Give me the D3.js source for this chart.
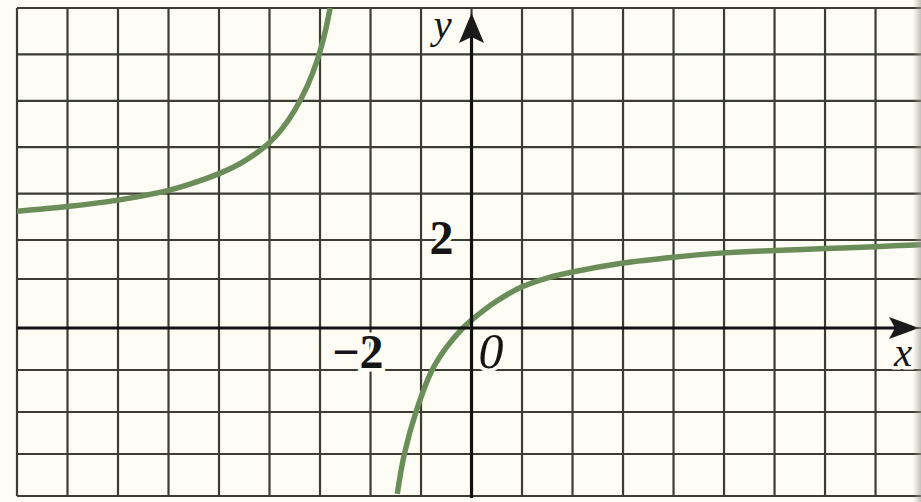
<!DOCTYPE html>
<html>
<head>
<meta charset="utf-8">
<script src="https://cdn.jsdelivr.net/npm/d3@7"></script>
<style>
  html, body { margin: 0; padding: 0; background: #fdfdf6; }
  svg { display: block; }
</style>
</head>
<body>
<svg id="chart" width="921" height="502"></svg>
<script>
// Left branch of the graph (left of the vertical asymptote)
const leftX = [-9, -8, -7, -6, -5.5, -5, -4.75, -4.5, -4.25, -4, -3.75, -3.5, -3.25, -3.05, -2.9, -2.8];
const leftY = [2.62, 2.72, 2.86, 3.07, 3.23, 3.43, 3.55, 3.70, 3.88, 4.10, 4.40, 4.80, 5.32, 5.89, 6.48, 7.0];

// Right branch of the graph (through the origin, rising towards y = 2)
const rightX = [-1.47, -1.33, -1.1, -0.78, -0.49, -0.17, 0, 0.5, 1, 1.51, 2, 3, 4, 5, 6, 7, 8, 8.9];
const rightY = [-3.95, -3.0, -2.0, -1.0, -0.45, 0, 0.16, 0.55, 0.84, 1.03, 1.18, 1.41, 1.56, 1.67, 1.73, 1.78, 1.83, 1.88];

// Grid lines, one per unit
const xGridValues = [-9, -8, -7, -6, -5, -4, -3, -2, -1, 0, 1, 2, 3, 4, 5, 6, 7, 8];
const yGridValues = [-4, -3, -2, -1, 0, 1, 2, 3, 4, 5, 6, 7];

// Axis labels
const xTickValues = [-2];
const xTickLabels = ["−2"];
const yTickValues = [2];
const yTickLabels = ["2"];
const originLabel = "0";
const xAxisName = "x";
const yAxisName = "y";

const W = 921, H = 502;
const svg = d3.select("#chart");

const x = d3.scaleLinear().domain([-9, 8.9]).range([17, 921]);
const y = d3.scaleLinear().domain([-4, 0, 1, 2, 7]).range([496, 328, 279, 240, 8]);

const bg = "#fdfdf6";
const gridColor = "#3b3d33";
const curveColor = "#6b8d59";

svg.append("rect").attr("width", W).attr("height", H).attr("fill", bg);

// Clip region = ruled paper area
svg.append("clipPath").attr("id", "plotClip")
  .append("rect")
  .attr("x", x(-9)).attr("y", y(7))
  .attr("width", W - x(-9)).attr("height", y(-4) - y(7));

// Grid
const grid = svg.append("g").attr("stroke", gridColor).attr("stroke-width", 2.2).attr("fill", "none");
grid.selectAll("line.v").data(xGridValues).join("line")
  .attr("class", "v")
  .attr("x1", d => x(d)).attr("x2", d => x(d))
  .attr("y1", y(7)).attr("y2", y(-4));
grid.selectAll("line.h").data(yGridValues).join("line")
  .attr("class", "h")
  .attr("x1", x(-9)).attr("x2", W)
  .attr("y1", d => y(d)).attr("y2", d => y(d));

// Curve
const line = d3.line()
  .x(d => x(d[0]))
  .y(d => y(d[1]))
  .curve(d3.curveCatmullRom.alpha(0.5));

const branches = [
  d3.zip(leftX, leftY),
  d3.zip(rightX, rightY)
];

svg.append("g").attr("clip-path", "url(#plotClip)")
  .selectAll("path").data(branches).join("path")
  .attr("d", line)
  .attr("fill", "none")
  .attr("stroke", curveColor)
  .attr("stroke-width", 5.5)
  .attr("stroke-linecap", "butt");

// Axes
const axes = svg.append("g").attr("stroke", "#111").attr("stroke-width", 3.2);
axes.append("line")
  .attr("x1", x(-9)).attr("x2", 905)
  .attr("y1", y(0)).attr("y2", y(0));
axes.append("line")
  .attr("x1", x(0)).attr("x2", x(0))
  .attr("y1", y(-4) + 2).attr("y2", 30);

// Arrow heads
const ax0 = x(0), ay0 = y(0);
svg.append("path")
  .attr("d", `M${ax0},13 L${ax0 + 12.5},43 L${ax0},37 L${ax0 - 12.5},43 Z`)
  .attr("fill", "#1a1a1a");
svg.append("path")
  .attr("d", `M919,${ay0} L889,${ay0 - 11} L895,${ay0} L889,${ay0 + 11} Z`)
  .attr("fill", "#1a1a1a");

// Labels (with a paper-coloured halo that knocks out the grid under them)
const labelFont = "'Liberation Serif', 'Times New Roman', serif";
function label(txt, px, py, anchor, italic, bold, size) {
  svg.append("text")
    .attr("x", px).attr("y", py)
    .attr("text-anchor", anchor)
    .attr("font-family", labelFont)
    .attr("font-size", size)
    .attr("font-style", italic ? "italic" : "normal")
    .attr("font-weight", bold ? "bold" : "normal")
    .attr("fill", "#151515")
    .attr("stroke", bg)
    .attr("stroke-width", 7)
    .attr("paint-order", "stroke")
    .text(txt);
}

xTickValues.forEach((v, i) => label(xTickLabels[i], x(v) + 13, y(0) + 40, "end", false, true, 48));
yTickValues.forEach((v, i) => label(yTickLabels[i], x(0) - 30, y(v) + 14, "middle", false, true, 48));
label(originLabel, x(0) + 7, y(0) + 40, "start", true, false, 50);
label(yAxisName, x(0) - 29, 38, "middle", true, false, 41);
label(xAxisName, 903, y(0) + 38, "middle", true, false, 41);

// Shadow along the right edge of the sheet
const grad = svg.append("defs").append("linearGradient").attr("id", "edgeShade")
  .attr("x1", "0").attr("x2", "1").attr("y1", "0").attr("y2", "0");
grad.append("stop").attr("offset", "0").attr("stop-color", "#9a9a90").attr("stop-opacity", 0);
grad.append("stop").attr("offset", "1").attr("stop-color", "#9a9a90").attr("stop-opacity", 0.6);
svg.append("rect").attr("x", 913).attr("y", 0).attr("width", 8).attr("height", H)
  .attr("fill", "url(#edgeShade)");
</script>
</body>
</html>
